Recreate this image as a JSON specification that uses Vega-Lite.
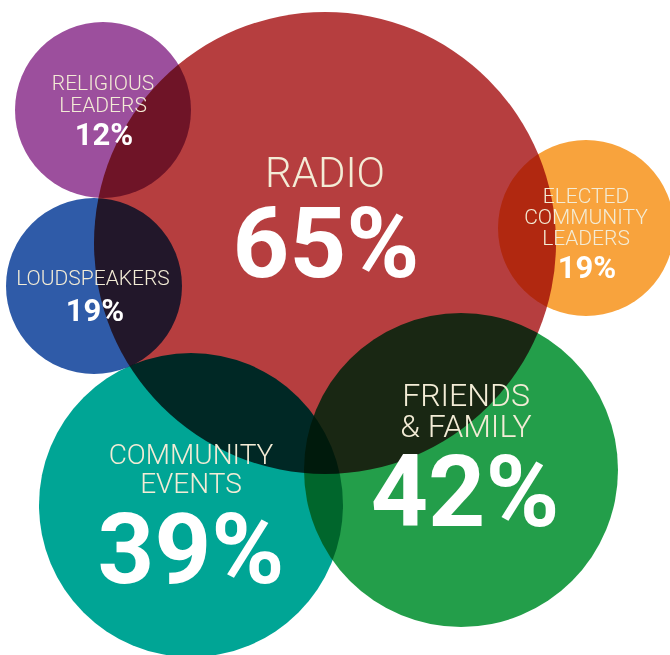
{
  "$schema": "https://vega.github.io/schema/vega-lite/v6.json",
  "width": 670,
  "height": 655,
  "autosize": "none",
  "padding": 0,
  "background": "white",
  "config": {"view": {"stroke": null}},
  "datasets": {
    "bubbles": [
      {"name": "Radio", "pct": 0.65, "x": 325, "y": 243, "r": 231},
      {"name": "Religious leaders", "pct": 0.12, "x": 103, "y": 110, "r": 88},
      {"name": "Loudspeakers", "pct": 0.19, "x": 94, "y": 286, "r": 88},
      {"name": "Elected community leaders", "pct": 0.19, "x": 586, "y": 228, "r": 88},
      {"name": "Friends & family", "pct": 0.42, "x": 461, "y": 470, "r": 157},
      {"name": "Community events", "pct": 0.39, "x": 191, "y": 505, "r": 152}
    ],
    "lines": [
      {"name": "Religious leaders", "role": "label", "text": "RELIGIOUS", "x": 103, "y": 90},
      {"name": "Religious leaders", "role": "label", "text": "LEADERS", "x": 103, "y": 112},
      {"name": "Religious leaders", "role": "value", "text": "12%", "x": 104, "y": 145},
      {"name": "Loudspeakers", "role": "label", "text": "LOUDSPEAKERS", "x": 93, "y": 285},
      {"name": "Loudspeakers", "role": "value", "text": "19%", "x": 95, "y": 321},
      {"name": "Elected community leaders", "role": "label", "text": "ELECTED", "x": 586, "y": 203},
      {"name": "Elected community leaders", "role": "label", "text": "COMMUNITY", "x": 586, "y": 224},
      {"name": "Elected community leaders", "role": "label", "text": "LEADERS", "x": 586, "y": 245},
      {"name": "Elected community leaders", "role": "value", "text": "19%", "x": 587, "y": 278},
      {"name": "Radio", "role": "label", "text": "RADIO", "x": 325, "y": 187},
      {"name": "Radio", "role": "value", "text": "65%", "x": 326, "y": 277},
      {"name": "Friends & family", "role": "label", "text": "FRIENDS", "x": 466, "y": 406},
      {"name": "Friends & family", "role": "label", "text": "& FAMILY", "x": 466, "y": 437},
      {"name": "Friends & family", "role": "value", "text": "42%", "x": 465, "y": 526},
      {"name": "Community events", "role": "label", "text": "COMMUNITY", "x": 191, "y": 464},
      {"name": "Community events", "role": "label", "text": "EVENTS", "x": 191, "y": 493},
      {"name": "Community events", "role": "value", "text": "39%", "x": 191, "y": 583}
    ]
  },
  "layer": [
    {
      "data": {"name": "bubbles"},
      "mark": {"type": "point", "shape": "circle", "filled": true, "opacity": 1, "strokeWidth": 0, "blend": "multiply"},
      "encoding": {
        "x": {"field": "x", "type": "quantitative", "scale": {"domain": [0, 670], "nice": false, "zero": false}, "axis": null},
        "y": {"field": "y", "type": "quantitative", "scale": {"domain": [0, 655], "nice": false, "zero": false, "reverse": true}, "axis": null},
        "size": {"field": "r", "type": "quantitative", "scale": {"type": "pow", "exponent": 2, "domain": [0, 250], "range": [0, 250000], "zero": true, "clamp": false}, "legend": null},
        "color": {
          "field": "name", "type": "nominal", "legend": null,
          "scale": {
            "domain": ["Radio", "Religious leaders", "Loudspeakers", "Elected community leaders", "Friends & family", "Community events"],
            "range": ["#b63e3f", "#9c4f9d", "#2f5ba8", "#f8a33d", "#239e4a", "#00a595"]
          }
        }
      }
    },
    {
      "data": {"name": "lines"},
      "transform": [{"filter": "datum.role === 'label'"}],
      "mark": {"type": "text", "font": "Roboto", "fontWeight": 300, "baseline": "alphabetic", "align": "center", "color": "#f3ecd6"},
      "encoding": {
        "x": {"field": "x", "type": "quantitative"},
        "y": {"field": "y", "type": "quantitative"},
        "text": {"field": "text"},
        "size": {
          "field": "name", "type": "nominal", "legend": null,
          "scale": {
            "type": "ordinal",
            "domain": ["Radio", "Religious leaders", "Loudspeakers", "Elected community leaders", "Friends & family", "Community events"],
            "range": [42, 21, 21, 21, 32, 28]
          }
        }
      }
    },
    {
      "data": {"name": "lines"},
      "transform": [{"filter": "datum.role === 'value'"}],
      "mark": {"type": "text", "font": "Roboto", "fontWeight": "bold", "baseline": "alphabetic", "align": "center", "color": "#ffffff"},
      "encoding": {
        "x": {"field": "x", "type": "quantitative"},
        "y": {"field": "y", "type": "quantitative"},
        "text": {"field": "text"},
        "size": {
          "field": "name", "type": "nominal", "legend": null,
          "scale": {
            "type": "ordinal",
            "domain": ["Radio", "Religious leaders", "Loudspeakers", "Elected community leaders", "Friends & family", "Community events"],
            "range": [99, 31, 31, 31, 100, 99]
          }
        }
      }
    }
  ],
  "resolve": {"scale": {"size": "independent", "color": "independent"}}
}
